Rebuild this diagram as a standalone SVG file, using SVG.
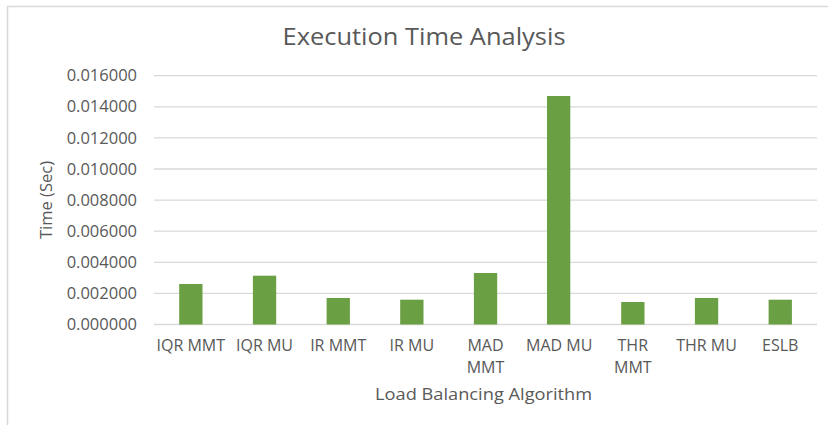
<svg xmlns="http://www.w3.org/2000/svg" width="828" height="425" viewBox="0 0 828 425">
  <style>
    text { font-family: "Open Sans", "Liberation Sans", sans-serif; fill: #595959; }
    .tick { font-size: 16.5px; text-anchor: end; }
    .cat { font-size: 16px; text-anchor: middle; }
    .axis { font-size: 16.5px; text-anchor: middle; }
    .title { font-size: 24px; text-anchor: middle; }
    .grid line { stroke: #D9D9D9; stroke-width: 1.3; }
    .bars rect { fill: #6A9F43; }
    .frame { stroke: #D9D9D9; stroke-width: 1.6; fill: none; }
  </style>

  <rect width="828" height="425" fill="#FFFFFF"/>
  <!-- chart area border (right and bottom edges lie outside the canvas) -->
  <path class="frame" d="M7.5,425 V6.5 H828"/>

  <text class="title" x="424" y="45" textLength="283" lengthAdjust="spacingAndGlyphs">Execution Time Analysis</text>

  <!-- horizontal gridlines -->
  <g class="grid">
    <line x1="154" y1="324.5" x2="817" y2="324.5"/>
    <line x1="154" y1="293.4" x2="817" y2="293.4"/>
    <line x1="154" y1="262.3" x2="817" y2="262.3"/>
    <line x1="154" y1="231.2" x2="817" y2="231.2"/>
    <line x1="154" y1="200.1" x2="817" y2="200.1"/>
    <line x1="154" y1="169" x2="817" y2="169"/>
    <line x1="154" y1="137.9" x2="817" y2="137.9"/>
    <line x1="154" y1="106.8" x2="817" y2="106.8"/>
    <line x1="154" y1="75.7" x2="817" y2="75.7"/>
  </g>

  <!-- value axis labels -->
  <g id="y-ticks">
    <text class="tick" x="137" y="330">0.000000</text>
    <text class="tick" x="137" y="299">0.002000</text>
    <text class="tick" x="137" y="268">0.004000</text>
    <text class="tick" x="137" y="236.8">0.006000</text>
    <text class="tick" x="137" y="205.7">0.008000</text>
    <text class="tick" x="137" y="174.6">0.010000</text>
    <text class="tick" x="137" y="143.5">0.012000</text>
    <text class="tick" x="137" y="112.4">0.014000</text>
    <text class="tick" x="137" y="81.3">0.016000</text>
  </g>

  <text id="y-title" class="axis" transform="translate(52,200) rotate(-90)">Time (Sec)</text>

  <!-- data bars -->
  <g class="bars">
    <rect id="bar-iqr-mmt" x="179.2" y="284" width="23.3" height="40.5"/>
    <rect id="bar-iqr-mu" x="252.9" y="275.7" width="23.3" height="48.8"/>
    <rect id="bar-ir-mmt" x="326.6" y="298" width="23.3" height="26.5"/>
    <rect id="bar-ir-mu" x="400.2" y="299.7" width="23.3" height="24.8"/>
    <rect id="bar-mad-mmt" x="473.9" y="273" width="23.3" height="51.5"/>
    <rect id="bar-mad-mu" x="547" y="96" width="23.3" height="228.5"/>
    <rect id="bar-thr-mmt" x="621.2" y="302" width="23.3" height="22.5"/>
    <rect id="bar-thr-mu" x="694.9" y="298" width="23.3" height="26.5"/>
    <rect id="bar-eslb" x="768.6" y="299.7" width="23.3" height="24.8"/>
  </g>

  <!-- category labels -->
  <g id="x-labels">
    <text class="cat" x="190.8" y="350.5">IQR MMT</text>
    <text class="cat" x="264.5" y="350.5">IQR MU</text>
    <text class="cat" x="338.2" y="350.5">IR MMT</text>
    <text class="cat" x="411.8" y="350.5">IR MU</text>
    <text class="cat" x="485.5" y="350.5">MAD</text>
    <text class="cat" x="485.5" y="372.5">MMT</text>
    <text class="cat" x="559.2" y="350.5">MAD MU</text>
    <text class="cat" x="632.8" y="350.5">THR</text>
    <text class="cat" x="632.8" y="372.5">MMT</text>
    <text class="cat" x="706.5" y="350.5">THR MU</text>
    <text class="cat" x="780.2" y="350.5">ESLB</text>
  </g>

  <text id="x-title" class="axis" x="483.6" y="400" textLength="217" lengthAdjust="spacingAndGlyphs">Load Balancing Algorithm</text>
</svg>
